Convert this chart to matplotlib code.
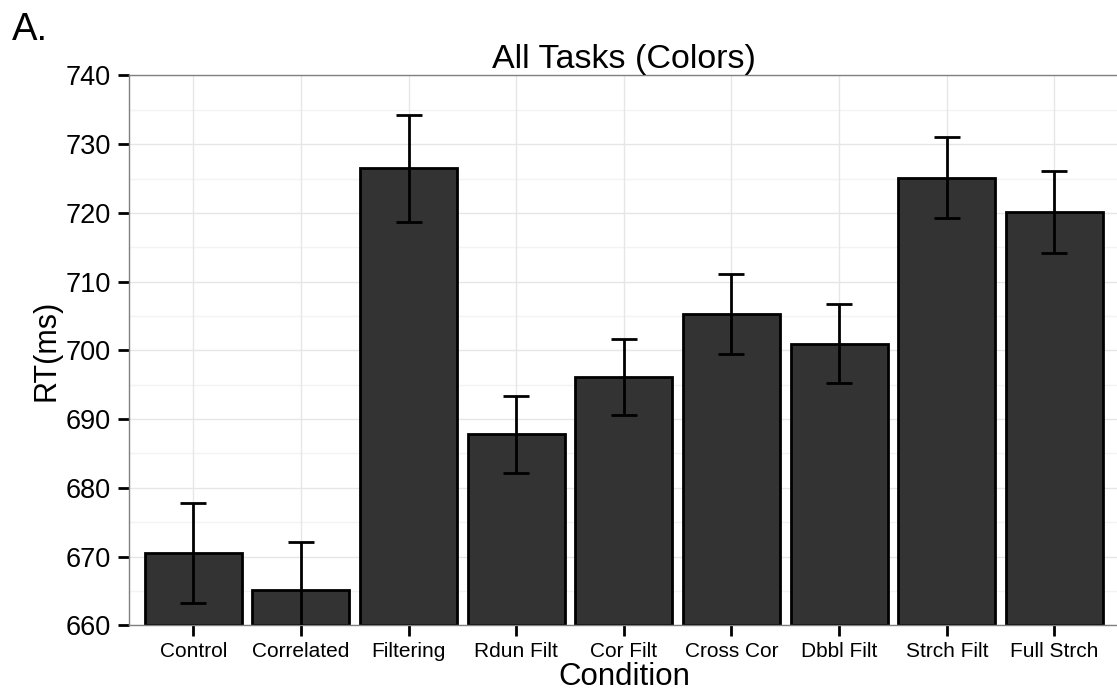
import numpy as np
import matplotlib
matplotlib.use("Agg")
import matplotlib.pyplot as plt

plt.rcParams['font.family'] = ['Liberation Sans', 'DejaVu Sans']

conditions = ["Control", "Correlated", "Filtering", "Rdun Filt", "Cor Filt",
              "Cross Cor", "Dbbl Filt", "Strch Filt", "Full Strch"]
rt_mean = [670.5, 665.2, 726.5, 687.8, 696.1, 705.3, 701.0, 725.1, 720.1]
rt_err = [7.3, 6.9, 7.8, 5.6, 5.5, 5.8, 5.7, 5.9, 6.0]

fig = plt.figure(figsize=(11.17, 7.0), dpi=100)
ax = fig.add_axes([0.1152, 0.1067, 0.8866, 0.7855])

x = np.arange(len(conditions))

# grid like theme_bw: major + minor lines
for v in np.arange(660, 741, 10):
    ax.axhline(v, color="#e6e6e6", lw=1.0, zorder=0)
for v in np.arange(665, 740, 10):
    ax.axhline(v, color="#f3f3f3", lw=1.0, zorder=0)
for xi in x:
    ax.axvline(xi, color="#e6e6e6", lw=1.0, zorder=0)

ax.bar(x, np.array(rt_mean) - 660, width=0.9, bottom=660, color="#333333",
       edgecolor="black", linewidth=2.0, zorder=2)
ax.errorbar(x, rt_mean, yerr=rt_err, fmt="none", ecolor="black",
            elinewidth=2.0, capsize=9.7, capthick=2.0, zorder=3)

ax.set_xlim(-0.6, 8.6)
ax.set_ylim(660, 740)
ax.set_yticks(np.arange(660, 741, 10))
ax.set_xticks(x)
ax.set_xticklabels(conditions, fontsize=15)
ax.tick_params(axis="y", labelsize=19.5, length=8, width=2.0, pad=5)
ax.tick_params(axis="x", length=8, width=2.0, pad=4)

for s in ax.spines.values():
    s.set_color("#808080")
    s.set_linewidth(1.0)

ax.set_title("All Tasks (Colors)", fontsize=24.5, pad=4)
ax.set_xlabel("Condition", fontsize=22.5, labelpad=1)
ax.set_ylabel("RT(ms)", fontsize=22, labelpad=3)

fig.text(0.011, 0.943, "A.", fontsize=27.5, ha="left", va="baseline")

fig.savefig("out.png", dpi=100)
